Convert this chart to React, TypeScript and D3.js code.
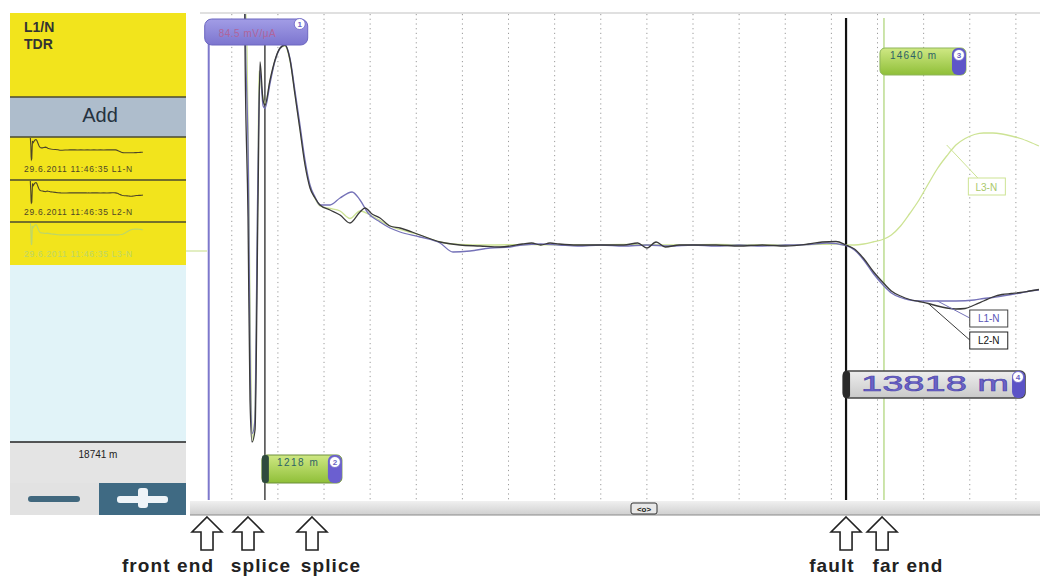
import React from 'react';
import * as d3 from 'd3';

// TDR traces: [distance in m, amplitude in mV]
const traceL1: [number, number][] = [
  [780, 100], [800, 79], [860, 30], [900, -50], [945, -75], [1000, -70], [1060, 20], [1110, 70],
  [1180, 56], [1221, 55], [1329, 65], [1437, 74], [1546, 79], [1654, 80.4], [1763, 75], [1871, 62],
  [1979, 48.4], [2088, 34.4], [2196, 24.4], [2305, 19.6], [2413, 16.4], [2630, 16.4], [2847, 19.2],
  [3107, 21.6], [3280, 18.4], [3454, 13.2], [3714, 9.6], [3931, 7.2], [4147, 5.6], [4581, 3.6],
  [5015, 1.2], [5296, -2.4], [5665, -2], [6099, -0.8], [6532, -0.4], [6800, 0.4], [7200, 0.8],
  [7600, 0.4], [8000, 0], [8500, 0.4], [9000, 0], [9500, 0.4], [10000, 0], [10500, 0.4], [11000, 0],
  [11500, 0.4], [12000, 0], [12500, 0.4], [13000, 0.6], [13400, 1.2], [13818, 0.2], [14000, -1.6],
  [14200, -5.6], [14400, -10.8], [14640, -16], [14800, -18.8], [15000, -20.6], [15200, -21.6],
  [15400, -22], [15800, -22], [16200, -22], [16600, -21.6], [16800, -21], [17000, -20.6],
  [17200, -20], [17400, -19.4], [17600, -18.8], [17800, -18], [18000, -17.6]
];

const traceL2: [number, number][] = [
  [780, 100], [787, 79.2], [852, 11.6], [895, -61.6], [939, -78.4], [1004, -73.6], [1069, 18.4],
  [1112, 73.6], [1177, 58.4], [1221, 56.4], [1329, 66.4], [1437, 74.4], [1546, 79.2], [1654, 80.4],
  [1763, 74.4], [1871, 60.4], [1979, 46.4], [2088, 32.4], [2196, 23.2], [2305, 19.2], [2413, 16.4],
  [2630, 14.4], [2847, 12.4], [3063, 9.2], [3280, 13.6], [3389, 15.2], [3540, 12.8], [3714, 11.2],
  [3931, 8], [4147, 7.2], [4581, 4.4], [5015, 1.6], [5448, 0.4], [5882, 0], [6315, -0.4],
  [6800, 0.8], [7000, 1.2], [7200, 0.4], [7400, 1.2], [7600, 0.8], [8000, 0.4], [8500, 0.4],
  [9000, 0.4], [9300, 1.2], [9500, -0.8], [9700, 1.6], [9900, -0.4], [10200, 0.4], [10500, 0.4],
  [11000, 0.4], [11500, 0], [12000, 0.4], [12500, 0], [13000, 0.8], [13300, 1.6], [13600, 1.8],
  [13818, 0.4], [14000, -1.2], [14200, -5], [14400, -10], [14640, -15], [14800, -18], [15000, -20],
  [15200, -21.4], [15400, -22.2], [15600, -23], [15800, -24], [16000, -24.8], [16200, -25.2],
  [16400, -25], [16600, -23.6], [16800, -22], [17000, -20.4], [17200, -19.4], [17400, -19],
  [17600, -18.6], [17800, -18], [18000, -17.4]
];

const traceL3: [number, number][] = [
  [780, 100], [830, 79], [870, 20], [920, -60], [960, -78], [1010, -60], [1069, 30], [1090, 70],
  [1150, 62], [1221, 57], [1329, 66], [1437, 74], [1546, 79], [1654, 80], [1763, 74], [1871, 61],
  [1979, 47], [2088, 33], [2196, 24], [2305, 19], [2413, 16], [2630, 15], [2847, 14], [3063, 11],
  [3280, 14], [3540, 12], [3931, 8], [4581, 4.4], [5015, 1.6], [5448, 0.6], [6000, 0.4],
  [7000, 0.6], [8000, 0.4], [9000, 0.6], [10000, 0.4], [11000, 0.6], [12000, 0.4], [13000, 0.6],
  [13600, 0.8], [13818, 0.4], [14000, 0.4], [14200, 0.8], [14400, 1.6], [14640, 2.8], [14800, 4.4],
  [15000, 8], [15200, 13], [15400, 18.4], [15600, 24.8], [15800, 31], [16000, 36], [16200, 40.4],
  [16400, 43], [16600, 44.6], [16800, 45.2], [17000, 45.2], [17200, 44.8], [17400, 44],
  [17600, 43], [17800, 41.6], [18000, 40]
];

const traceNames = ['L1-N', 'L2-N', 'L3-N'];
const entryStamps = ['29.6.2011 11:46:35 L1-N', '29.6.2011 11:46:35 L2-N', '29.6.2011 11:46:35 L3-N'];

const cursorDistances = [0, 1218, 14640, 13818];
const cursorLabels = ['84.5 mV/μA', '1218 m', '14640 m', '13818 m'];
const cursorBadges = ['1', '2', '3', '4'];

const eventNames = ['front end', 'splice', 'splice', 'fault', 'far end'];
const eventDistances = [-37, 852, 2240, 13818, 14600];

const rangeText = '18741 m';

const W = 1040, H = 577;
const plot = {left: 200, right: 1040, top: 14, bottom: 500};
const font = '"Liberation Sans", Arial, sans-serif';

const traceColors = ['#7572b8', '#3a3a3a', '#cde394'];
const cursorColors = ['#7d78cc', '#444444', '#bcdc90', '#111111'];

function Badge({cx, cy, n}: {cx: number, cy: number, n: string}) {
  return (
    <g>
      <circle cx={cx} cy={cy} r={5.5} fill='#ffffff' stroke='#6a62c4' strokeWidth={0.8} />
      <text x={cx} y={cy + 3} textAnchor='middle' fontSize={8} fontWeight='bold' fill='#6a62c4' fontFamily={font}>{n}</text>
    </g>
  );
}

function Arrow({cx}: {cx: number}) {
  const top = 517, neck = 532, bottom = 550;
  const d = `M${cx},${top} L${cx + 15},${neck} L${cx + 6},${neck} L${cx + 6},${bottom} L${cx - 6},${bottom} L${cx - 6},${neck} L${cx - 15},${neck} Z`;
  return <path d={d} fill='#ffffff' stroke='#222' strokeWidth={1.6} strokeLinejoin='miter' />;
}

export default function App() {
  const x = d3.scaleLinear().domain([-189, 18023]).range([plot.left, plot.right]);
  const y = d3.scaleLinear().domain([-101.6, 92.8]).range([plot.bottom, plot.top]);

  const line = d3.line<[number, number]>()
    .x(d => x(d[0]))
    .y(d => y(d[1]))
    .curve(d3.curveMonotoneX);

  const traces = [traceL1, traceL2, traceL3];
  const gridDistances = d3.range(500, 18000, 1000);

  // thumbnails in the left panel
  const miniX = d3.scaleLinear().domain(x.domain()).range([24, 143]);
  const entryTops = [137, 180, 222];

  const cx = cursorDistances.map(d => x(d));
  const labelX = [168, 261, 331, 832, 908];

  return (
    <svg width={W} height={H} style={{position: 'absolute', left: 0, top: 0, background: '#fff'}} fontFamily={font}>
      <defs>
        <clipPath id='plotClip'>
          <rect x={plot.left} y={plot.top} width={plot.right - plot.left} height={plot.bottom - plot.top} />
        </clipPath>
        <linearGradient id='gPurple' x1='0' y1='0' x2='0' y2='1'>
          <stop offset='0' stopColor='#a29de6' />
          <stop offset='1' stopColor='#7c75cf' />
        </linearGradient>
        <linearGradient id='gGreen' x1='0' y1='0' x2='0' y2='1'>
          <stop offset='0' stopColor='#cfe884' />
          <stop offset='1' stopColor='#8fbf38' />
        </linearGradient>
        <linearGradient id='gGray' x1='0' y1='0' x2='0' y2='1'>
          <stop offset='0' stopColor='#ededed' />
          <stop offset='1' stopColor='#c9c9c9' />
        </linearGradient>
        <linearGradient id='gScroll' x1='0' y1='0' x2='0' y2='1'>
          <stop offset='0' stopColor='#f0f0f0' />
          <stop offset='1' stopColor='#cfcfcf' />
        </linearGradient>
      </defs>

      {/* left panel */}
      <g>
        <rect x={10} y={13} width={176} height={84} fill='#f2e41c' />
        <text x={24} y={32} fontSize={14} fontWeight='bold' fill='#333'>L1/N</text>
        <text x={24} y={49} fontSize={14} fontWeight='bold' fill='#333'>TDR</text>
        <rect x={10} y={97} width={176} height={40} fill='#aebdcc' />
        <text x={100} y={122} fontSize={20} textAnchor='middle' fill='#25323f'>Add</text>
        {entryTops.map((t, i) => {
          const my = d3.scaleLinear().domain(y.domain()).range([t + 26, t + 1]);
          const miniLine = d3.line<[number, number]>().x(d => miniX(d[0])).y(d => my(Math.min(d[1], 92.8)));
          const col = i === 2 ? '#bcd66a' : '#4e4628';
          return (
            <g key={i}>
              <rect x={10} y={t} width={176} height={43} fill='#f2e41c' />
              <path d={miniLine(traces[i]) || ''} fill='none' stroke={col} strokeWidth={1.1} />
              <text x={24} y={t + 35} fontSize={8.5} letterSpacing={0.7} fill={col}>{entryStamps[i]}</text>
            </g>
          );
        })}
        {[97, 137, 180, 222].map(v => (
          <line key={v} x1={10} x2={186} y1={v} y2={v} stroke='#4a4a30' strokeWidth={1.5} />
        ))}
        <rect x={10} y={265} width={176} height={177} fill='#e1f3f8' />
        <rect x={10} y={442} width={176} height={41} fill='#e4e4e4' />
        <line x1={10} x2={186} y1={442} y2={442} stroke='#222' strokeWidth={1.5} />
        <text x={98} y={458} fontSize={10} textAnchor='middle' fill='#222'>{rangeText}</text>
        <rect x={10} y={483} width={89} height={32} fill='#e2e2e2' />
        <rect x={28} y={496} width={52} height={6} rx={3} fill='#41687e' />
        <rect x={99} y={483} width={87} height={32} fill='#3f6a83' />
        <rect x={117} y={496} width={51} height={7} rx={3} fill='#eef4f8' />
        <rect x={138} y={488} width={10} height={20} rx={3} fill='#eef4f8' />
        <line x1={186} x2={207} y1={251} y2={251} stroke='#cfe39a' strokeWidth={1.2} />
      </g>

      {/* plot frame */}
      <line x1={plot.left} x2={plot.right} y1={plot.top - 1} y2={plot.top - 1} stroke='#d6d6d6' strokeWidth={1.5} />

      {/* grid */}
      {gridDistances.map(d => (
        <line key={d} x1={x(d)} x2={x(d)} y1={plot.top} y2={plot.bottom}
          stroke='#9a9a9a' strokeWidth={1} strokeDasharray='1.2,3.5' />
      ))}

      {/* cursors */}
      <line x1={cx[0]} x2={cx[0]} y1={20} y2={plot.bottom} stroke={cursorColors[0]} strokeWidth={2} />
      <line x1={cx[1]} x2={cx[1]} y1={20} y2={plot.bottom} stroke={cursorColors[1]} strokeWidth={1.5} />
      <line x1={cx[2]} x2={cx[2]} y1={18} y2={plot.bottom} stroke={cursorColors[2]} strokeWidth={1.5} />
      <line x1={cx[3]} x2={cx[3]} y1={18} y2={plot.bottom} stroke={cursorColors[3]} strokeWidth={2.2} />

      {/* traces */}
      <g clipPath='url(#plotClip)'>
        {[2, 0, 1].map(i => (
          <path key={i} d={line(traces[i]) || ''} fill='none' stroke={traceColors[i]} strokeWidth={1.3} />
        ))}
      </g>

      {/* trace labels */}
      <g fontSize={10}>
        <line x1={x(16000)} y1={y(traceL3[51][1])} x2={x(16860)} y2={y(23.6)} stroke='#cde394' strokeWidth={1} />
        <rect x={x(16860) - 18} y={y(23.6) - 9} width={37} height={17} fill='#fff' stroke='#cde394' />
        <text x={x(16860)} y={y(23.6) + 4} textAnchor='middle' fill='#a9c86a'>{traceNames[2]}</text>

        <line x1={x(15800)} y1={y(-22)} x2={x(16500)} y2={y(-28.8)} stroke='#7572b8' strokeWidth={1} />
        <line x1={x(15600)} y1={y(-23)} x2={x(16500)} y2={y(-37.6)} stroke='#3a3a3a' strokeWidth={1} />
        <rect x={x(16500)} y={y(-28.8) - 8} width={38} height={17} fill='#fff' stroke='#444' />
        <text x={x(16500) + 19} y={y(-28.8) + 4} textAnchor='middle' fill='#5a56b8'>{traceNames[0]}</text>
        <rect x={x(16500)} y={y(-37.6) - 8} width={38} height={17} fill='#fff' stroke='#222' />
        <text x={x(16500) + 19} y={y(-37.6) + 4} textAnchor='middle' fill='#111'>{traceNames[1]}</text>
      </g>

      {/* cursor tags */}
      <g>
        <rect x={cx[0] - 4} y={19} width={103} height={26} rx={7} fill='url(#gPurple)' stroke='#6c66c0' />
        <text x={cx[0] + 10} y={37} fontSize={10} letterSpacing={0.5} fill='#b0659c'>{cursorLabels[0]}</text>
        <Badge cx={cx[0] + 91} cy={24} n={cursorBadges[0]} />

        <rect x={cx[1] - 3} y={455} width={80} height={28} rx={5} fill='url(#gGreen)' stroke='#6d8f3a' />
        <rect x={cx[1] - 3} y={455} width={7} height={28} rx={3} fill='#2f4a3e' />
        <rect x={cx[1] + 63} y={455} width={14} height={28} rx={6} fill='#6b5fd0' />
        <text x={cx[1] + 12} y={466} fontSize={10} letterSpacing={1.5} fill='#2d6266'>{cursorLabels[1]}</text>
        <Badge cx={cx[1] + 70} cy={462} n={cursorBadges[1]} />

        <rect x={cx[2] - 4} y={48} width={86} height={27} rx={5} fill='url(#gGreen)' stroke='#8fb55a' />
        <rect x={cx[2] + 68} y={48} width={14} height={27} rx={6} fill='#5e56c8' />
        <text x={cx[2] + 6} y={59} fontSize={10} letterSpacing={1.2} fill='#2d6266'>{cursorLabels[2]}</text>
        <Badge cx={cx[2] + 75} cy={55} n={cursorBadges[2]} />

        <rect x={cx[3] - 3} y={371} width={182} height={27} rx={5} fill='url(#gGray)' stroke='#444' strokeWidth={1.5} />
        <rect x={cx[3] - 3} y={371} width={7} height={27} rx={3} fill='#2a2a2a' />
        <rect x={cx[3] + 166} y={371} width={13} height={27} rx={6} fill='#5b53c6' />
        <text x={cx[3] + 15} y={391} fontSize={22} textLength={148} lengthAdjust='spacingAndGlyphs'
          fill='#6c63c8' stroke='#4a44a8' strokeWidth={0.5}>{cursorLabels[3]}</text>
        <Badge cx={cx[3] + 172} cy={377} n={cursorBadges[3]} />
      </g>

      {/* scrollbar */}
      <rect x={190} y={501} width={850} height={14} fill='url(#gScroll)' />
      <line x1={190} x2={1040} y1={515} y2={515} stroke='#8a8a8a' strokeWidth={1} />
      <rect x={631} y={503} width={26} height={11} rx={2} fill='#e8e8e8' stroke='#333' />
      <text x={644} y={512} fontSize={8} textAnchor='middle' fill='#222' fontWeight='bold'>{'<o>'}</text>

      {/* event arrows */}
      {eventDistances.map((d, i) => (
        <Arrow key={i} cx={x(d)} />
      ))}
      {eventNames.map((n, i) => (
        <text key={i} x={labelX[i]} y={572} fontSize={19} fontWeight='bold' letterSpacing={1.1}
          textAnchor='middle' fill='#222'>{n}</text>
      ))}
    </svg>
  );
}
